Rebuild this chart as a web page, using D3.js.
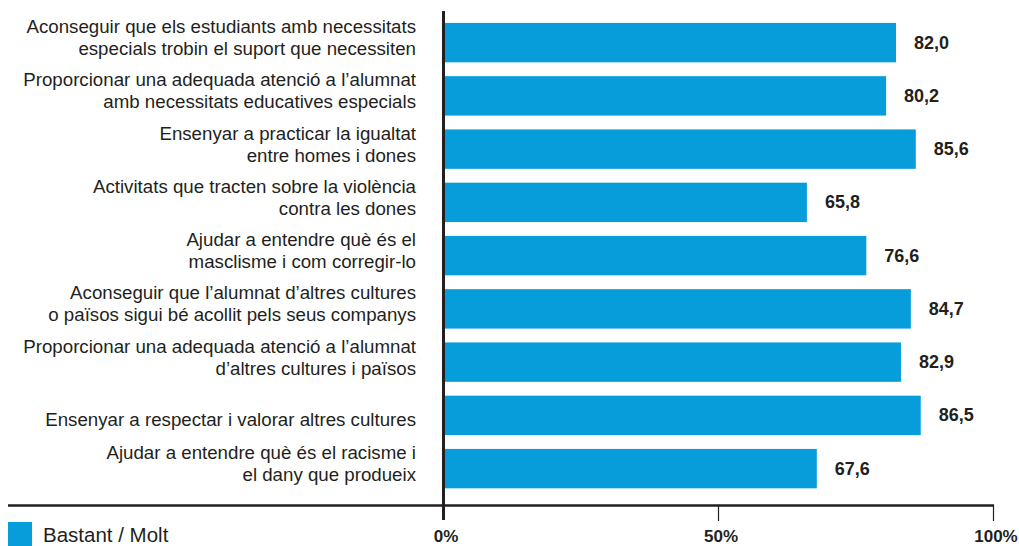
<!DOCTYPE html>
<html>
<head>
<meta charset="utf-8">
<script src="https://cdn.jsdelivr.net/npm/d3@7"></script>
<style>
  body { margin: 0; background: #fff; }
  svg { display: block; font-family: "Liberation Sans", Arial, Helvetica, sans-serif; }
</style>
</head>
<body>
<svg id="chart" width="1019" height="546"></svg>
<script>
// labels, split in lines as printed
const categories = [
  ["Aconseguir que els estudiants amb necessitats", "especials trobin el suport que necessiten"],
  ["Proporcionar una adequada atenció a l’alumnat", "amb necessitats educatives especials"],
  ["Ensenyar a practicar la igualtat", "entre homes i dones"],
  ["Activitats que tracten sobre la violència", "contra les dones"],
  ["Ajudar a entendre què és el", "masclisme i com corregir-lo"],
  ["Aconseguir que l’alumnat d’altres cultures", "o països sigui bé acollit pels seus companys"],
  ["Proporcionar una adequada atenció a l’alumnat", "d’altres cultures i països"],
  ["Ensenyar a respectar i valorar altres cultures"],
  ["Ajudar a entendre què és el racisme i", "el dany que produeix"]
];
const values = [82.0, 80.2, 85.6, 65.8, 76.6, 84.7, 82.9, 86.5, 67.6];
const ticks = [0, 50, 100];
const seriesName = "Bastant / Molt";

const blue = "#079ddb";
const ink = "#231f20";

const svg = d3.select("#chart");

const x = d3.scaleLinear().domain([0, 100]).range([445, 995]);
const y = d3.scaleBand()
  .domain(d3.range(values.length))
  .range([16, 16 + 53.25 * values.length])
  .paddingInner(0.26)
  .paddingOuter(0.13);

// bars
svg.selectAll("rect.bar")
  .data(values)
  .enter()
  .append("rect")
  .attr("class", "bar")
  .attr("x", x(0))
  .attr("y", (d, i) => y(i))
  .attr("width", d => x(d) - x(0))
  .attr("height", y.bandwidth())
  .attr("fill", blue);

// value labels
svg.selectAll("text.val")
  .data(values)
  .enter()
  .append("text")
  .attr("class", "val")
  .attr("x", d => x(d) + 18)
  .attr("y", (d, i) => y(i) + y.bandwidth() / 2 + 6)
  .attr("font-size", 18)
  .attr("font-weight", "bold")
  .attr("fill", ink)
  .text(d => d.toFixed(1).replace(".", ","));

// category labels
const lab = svg.selectAll("text.cat")
  .data(categories)
  .enter()
  .append("text")
  .attr("class", "cat")
  .attr("text-anchor", "end")
  .attr("font-size", 18.7)
  .attr("fill", ink);

lab.each(function(lines, i) {
  const c = y(i) + y.bandwidth() / 2;
  const t = d3.select(this);
  if (lines.length == 1) {
    t.append("tspan").attr("x", 416).attr("y", c + 11).text(lines[0]);
  } else {
    lines.forEach((l, k) => {
      t.append("tspan").attr("x", 416).attr("y", c - 9.5 + k * 22).text(l);
    });
  }
});

// axes
svg.append("line")
  .attr("x1", 8).attr("x2", 994)
  .attr("y1", 505.5).attr("y2", 505.5)
  .attr("stroke", ink).attr("stroke-width", 2.5);

svg.selectAll("line.tick")
  .data(ticks.slice(1))
  .enter()
  .append("line")
  .attr("class", "tick")
  .attr("x1", d => x(d) - 1.5).attr("x2", d => x(d) - 1.5)
  .attr("y1", 505).attr("y2", 521)
  .attr("stroke", ink).attr("stroke-width", 1.2);

svg.append("line")
  .attr("x1", 443.5).attr("x2", 443.5)
  .attr("y1", 11).attr("y2", 520)
  .attr("stroke", ink).attr("stroke-width", 3);

svg.selectAll("text.tk")
  .data(ticks)
  .enter()
  .append("text")
  .attr("class", "tk")
  .attr("x", d => x(d) + 1)
  .attr("y", 542)
  .attr("text-anchor", "middle")
  .attr("font-size", 17)
  .attr("font-weight", "bold")
  .attr("fill", ink)
  .text(d => d + "%");

// legend
svg.append("rect")
  .attr("x", 8).attr("y", 522)
  .attr("width", 24).attr("height", 24)
  .attr("fill", blue);
svg.append("text")
  .attr("x", 43).attr("y", 542)
  .attr("font-size", 20.5)
  .attr("fill", ink)
  .text(seriesName);
</script>
</body>
</html>
